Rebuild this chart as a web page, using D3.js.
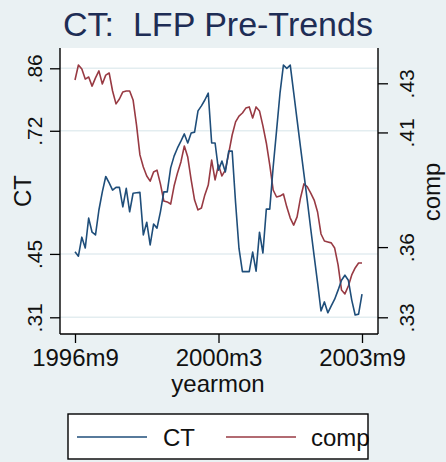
<!DOCTYPE html>
<html>
<head>
<meta charset="utf-8">
<script src="https://cdn.jsdelivr.net/npm/d3@7"></script>
<style>
  html, body { margin: 0; padding: 0; background: #eaf1f3; }
  svg { display: block; font-family: "Liberation Sans", Arial, Helvetica, sans-serif; }
  svg text { white-space: pre; }
</style>
</head>
<body>
<svg id="chart" width="446" height="462"></svg>
<script>
// Monthly labour-force participation, 1996m9 .. 2003m9
const ctValues = [
  .455, .445, .487, .463, .529, .498, .492, .547, .587, .621,
  .607, .591, .597, .597, .554, .595, .543, .584, .585, .586,
  .492, .520, .470, .516, .507, .543, .587, .587, .640, .666,
  .684, .699, .715, .695, .717, .719, .766, .777, .790, .805,
  .695, .695, .635, .655, .631, .677, .677, .563, .462, .411,
  .411, .411, .454, .412, .498, .452, .549, .549, .642, .723,
  .805, .867, .860, .867, .807, .746, .686, .627, .567, .505,
  .445, .386, .324, .344, .320, .335, .350, .370, .392, .403,
  .392, .348, .315, .317, .361
];
const compValues = [
  .4314, .4378, .4361, .4318, .4327, .4288, .4323, .4353, .4297, .4335,
  .4344, .4267, .4212, .4233, .4263, .4267, .4267, .4229, .4122, .3994,
  .3942, .3904, .3882, .3921, .3929, .3870, .3797, .3793, .3784, .3861,
  .3917, .3964, .4032, .3985, .3887, .3801, .3759, .3767, .3823, .3865,
  .3972, .3887, .3951, .3904, .3929, .4002, .4079, .4135, .4160, .4173,
  .4194, .4199, .4152, .4199, .4182, .4118, .4045, .3951, .3844, .3814,
  .3818, .3827, .3771, .3724, .3694, .3729, .3810, .3870, .3857, .3831,
  .3801, .3750, .3656, .3626, .3622, .3618, .3596, .3524, .3417, .3400,
  .3434, .3481, .3511, .3532, .3532
];
const startMonth = 440;                 // 1996m9 as a Stata %tm value
const xTickMonths = [440, 482, 524];
const xTickLabels = ["1996m9", "2000m3", "2003m9"];
const ctTicks = [0.31, 0.45, 0.722, 0.86];
const ctTickLabels = [".31", ".45", ".72", ".86"];
const compTicks = [0.33, 0.36, 0.409, 0.43];
const compTickLabels = [".33", ".36", ".41", ".43"];
const seriesNames = ["CT", "comp"];
const titleText = "CT:  LFP Pre-Trends";

const colors = { CT: "#1f4e7a", comp: "#983a43" };
const months = ctValues.map((_, i) => startMonth + i);

const svg = d3.select("#chart");
const plot = { left: 60, right: 378, top: 48, bottom: 334 };

const x = d3.scaleLinear().domain([440, 524]).range([75, 362]);
const yCT = d3.scaleLinear().domain([0.31, 0.86]).range([317.3, 68.3]);
const yComp = d3.scaleLinear().domain([0.33, 0.43]).range([317.3, 83.3]);

// background
svg.append("rect").attr("width", 446).attr("height", 462).attr("fill", "#eaf1f3");
svg.append("rect")
  .attr("x", plot.left).attr("y", plot.top)
  .attr("width", plot.right - plot.left).attr("height", plot.bottom - plot.top)
  .attr("fill", "#ffffff");

// gridlines at the CT ticks
svg.append("g").selectAll("line").data(ctTicks).join("line")
  .attr("x1", plot.left).attr("x2", plot.right)
  .attr("y1", d => yCT(d)).attr("y2", d => yCT(d))
  .attr("stroke", "#e3edf0").attr("stroke-width", 1.5);

// series
const lineCT = d3.line().x((d, i) => x(months[i])).y(d => yCT(d));
const lineComp = d3.line().x((d, i) => x(months[i])).y(d => yComp(d));
svg.append("path").datum(compValues).attr("d", lineComp)
  .attr("fill", "none").attr("stroke", colors.comp).attr("stroke-width", 1.6)
  .attr("stroke-linejoin", "round");
svg.append("path").datum(ctValues).attr("d", lineCT)
  .attr("fill", "none").attr("stroke", colors.CT).attr("stroke-width", 1.6)
  .attr("stroke-linejoin", "round");

const tickFs = 21;   // rotated y tick labels
const textFs = 24;   // x tick labels, axis titles, legend

// left axis
const gl = svg.append("g").attr("transform", `translate(${plot.left},0)`)
  .call(d3.axisLeft(yCT).tickValues(ctTicks).tickFormat((d, i) => ctTickLabels[i]).tickSize(10).tickSizeOuter(0));
gl.select(".domain").remove();
gl.selectAll(".tick line").attr("stroke", "#000").attr("stroke-width", 1.3);
gl.selectAll(".tick text")
  .attr("transform", "rotate(-90)").attr("x", 0).attr("y", -18).attr("dy", 0)
  .attr("text-anchor", "middle").attr("font-size", tickFs).attr("fill", "#111");

// right axis
const gr = svg.append("g").attr("transform", `translate(${plot.right},0)`)
  .call(d3.axisRight(yComp).tickValues(compTicks).tickFormat((d, i) => compTickLabels[i]).tickSize(10).tickSizeOuter(0));
gr.select(".domain").remove();
gr.selectAll(".tick line").attr("stroke", "#000").attr("stroke-width", 1.3);
gr.selectAll(".tick text")
  .attr("transform", "rotate(-90)").attr("x", 0).attr("y", 36).attr("dy", 0)
  .attr("text-anchor", "middle").attr("font-size", tickFs).attr("fill", "#111");

// bottom axis
const gb = svg.append("g").attr("transform", `translate(0,${plot.bottom})`)
  .call(d3.axisBottom(x).tickValues(xTickMonths).tickFormat((d, i) => xTickLabels[i]).tickSize(9).tickSizeOuter(0));
gb.select(".domain").remove();
gb.selectAll(".tick line").attr("stroke", "#000").attr("stroke-width", 1.3);
gb.selectAll(".tick text")
  .attr("y", 32).attr("dy", 0).attr("font-size", textFs).attr("fill", "#111");

// axis lines
const axisLines = [
  [plot.left, plot.top, plot.left, plot.bottom],
  [plot.right, plot.top, plot.right, plot.bottom],
  [plot.left, plot.bottom, plot.right, plot.bottom]
];
svg.append("g").selectAll("line").data(axisLines).join("line")
  .attr("x1", d => d[0]).attr("y1", d => d[1]).attr("x2", d => d[2]).attr("y2", d => d[3])
  .attr("stroke", "#000").attr("stroke-width", 1.4);

// axis titles
svg.append("text").attr("transform", "translate(31,191) rotate(-90)")
  .attr("text-anchor", "middle").attr("font-size", textFs).attr("fill", "#111").text("CT");
svg.append("text").attr("transform", "translate(440,192) rotate(-90)")
  .attr("text-anchor", "middle").attr("font-size", textFs).attr("fill", "#111").text("comp");
svg.append("text").attr("x", 218).attr("y", 392)
  .attr("text-anchor", "middle").attr("font-size", textFs).attr("fill", "#111").text("yearmon");

// title
svg.append("text").attr("x", 218).attr("y", 36)
  .attr("text-anchor", "middle").attr("font-size", 34).attr("fill", "#1e2d55").text(titleText);

// legend
const legend = svg.append("g");
legend.append("rect").attr("x", 68).attr("y", 414).attr("width", 300).attr("height", 45).attr("fill", "#fff");
const legendItems = [
  { name: seriesNames[0], x1: 77, tx: 163 },
  { name: seriesNames[1], x1: 226, tx: 311 }
];
legendItems.forEach(it => {
  legend.append("line").attr("x1", it.x1).attr("x2", it.x1 + 70).attr("y1", 437).attr("y2", 437)
    .attr("stroke", colors[it.name]).attr("stroke-width", 1.6);
  legend.append("text").attr("x", it.tx).attr("y", 446).attr("font-size", textFs)
    .attr("fill", "#111").text(it.name);
});
legend.append("rect").attr("x", 68).attr("y", 414).attr("width", 300).attr("height", 45)
  .attr("fill", "none").attr("stroke", "#000").attr("stroke-width", 1.4);
</script>
</body>
</html>
